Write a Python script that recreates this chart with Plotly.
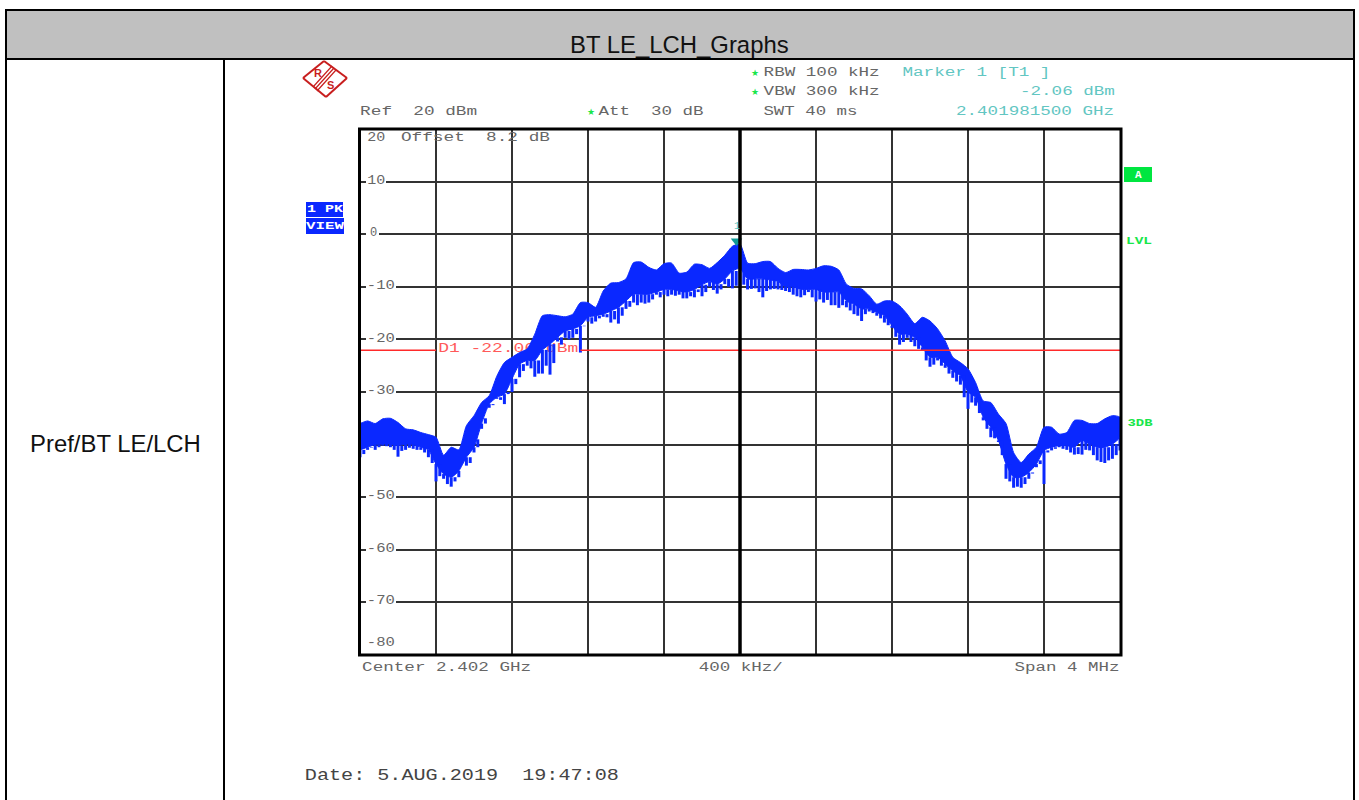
import json
import plotly.graph_objects as go

# ---------- data ----------
start_ghz = 2.400
step_ghz = 0.00004
upper_db = [-36, -35.5, -36, -35.1, -35, -35.8, -37, -37.2, -37.7, -38.1,
            -38.6, -42, -40.5, -41, -36.4, -34.5, -32, -30.7, -27, -24.4,
            -23.4, -22.5, -21.8, -19, -15.5, -15.3, -15.5, -15.7, -15.2, -13,
            -13, -13.9, -10.8, -9.3, -9.2, -8.5, -5.4, -5.3, -6.3, -6.8,
            -5.6, -5.5, -7.4, -7.2, -5.7, -5.8, -6.5, -5.4, -4, -2.3,
            -1.9, -5.5, -5.6, -5.2, -5.2, -6.5, -7.3, -6.7, -6.7, -6.8,
            -6.5, -6, -6.1, -6.8, -9.5, -10.3, -10.4, -11.7, -13.3, -12.7,
            -12.7, -13.6, -15.2, -17, -15.8, -16.5, -18, -20.3, -23.4, -24.4,
            -25.6, -28.2, -31.7, -32, -34.2, -36, -41.5, -43.4, -41.8, -40.5,
            -36.7, -36.7, -38, -37.7, -35.4, -35.4, -36, -36, -35.1, -34.5, -34.8]
lower_db = [-41, -40.5, -40, -39.9, -39.9, -40.2, -39.9, -40, -40.5, -41,
            -43.7, -45.6, -46.2, -45, -42.4, -40.5, -36, -32.3, -31, -30.4,
            -27.5, -24.7, -24, -24, -22, -20.9, -19.6, -18.4, -18, -17.4,
            -15.8, -15.5, -15.2, -14.6, -13.9, -12.7, -11.4, -11.4, -11.4, -11,
            -10.5, -10.5, -10.8, -11, -10.5, -9.6, -9, -9.5, -8.5, -7,
            -6.5, -8.5, -8.5, -8.5, -8.7, -9, -10, -10, -10.5, -10.5,
            -10.5, -11, -11, -11, -12.7, -13.3, -14.2, -14.2, -14.9, -15.5,
            -17.4, -19, -19, -19.6, -21.5, -23.4, -23.4, -24.7, -26, -26.9,
            -30, -31, -34.8, -36.7, -39.2, -43.7, -46.2, -46.2, -45.3, -43.7,
            -41.1, -40.5, -40.2, -40.2, -40.5, -39.2, -39.9, -40.5, -40.5, -39.9, -38.6]
spike_db = [-42.4, -41, -41, -40.2, -40.5, -42.3, -41, -40.8, -41, -42.4,
            -47, -46.5, -48, -46.2, -44, -41.5, -37, -33, -31.3, -32.3,
            -30, -27.2, -25, -27.1, -26.5, -26.7, -20.4, -19.7, -19.7, -22.5,
            -16.6, -16.6, -15.7, -16.8, -17, -14.2, -13, -13, -13, -11.5,
            -11.5, -11.5, -11.5, -12.2, -12, -11.8, -10, -11.3, -9.5, -10.3,
            -9.9, -10.5, -10.3, -12, -10.5, -10.5, -10.8, -11.5, -12, -11,
            -12.8, -13, -13.5, -14, -13.9, -15.2, -16.5, -14.7, -15.5, -16.8,
            -17.8, -21, -19.7, -21.3, -22.2, -25.2, -24, -25.4, -27.3, -28.6,
            -33.2, -32.6, -35.4, -38.6, -39.5, -46.5, -48.2, -48.2, -46.5, -44.3,
            -47.5, -41.1, -40.5, -41, -41.9, -41.9, -41.1, -43, -43.5, -42.7, -41.1]
mid_spike_db = [-41.8, -40.6, -40.5, -40.3, -41, -41.2, -40.6, -41, -41.5, -43.5,
                -46, -47.5, -47, -45, -43.5, -39, -35, -32.5, -31.5, -30,
                -28.5, -26, -25.5, -26.5, -25, -24.5, -21, -20, -19, -17.5,
                -17, -16, -15.8, -16.2, -15.5, -13.8, -13.5, -13.2, -12.4, -12,
                -11.8, -11.7, -12.2, -11.8, -11, -11, -10.6, -10.5, -10, -9.8,
                -9.6, -10.4, -11, -10.8, -10.4, -10.6, -11, -11.8, -11.6, -12,
                -12.4, -12.5, -13.5, -13.5, -14.5, -15.5, -15.2, -15, -16, -17.3,
                -19.5, -20.5, -20.5, -21.8, -24, -24.8, -25, -26.5, -28, -31,
                -32, -34, -37, -38.8, -42, -47, -48, -47.5, -45.5, -43,
                -41.5, -40.8, -40.8, -41.5, -41.8, -41, -42, -43.3, -43, -42]
display_line_db = -22.06
display_line_start_ghz = [2.400, 2.40116]
display_line_end_ghz = [2.4004, 2.404]
marker_ghz = 2.4019815
marker_db = -2.06
center_ghz = 2.402

assert len(upper_db) == len(lower_db) == len(spike_db) == 101 and len(mid_spike_db) == 100

freq = [start_ghz + i * step_ghz for i in range(len(upper_db))]

BLUE = "#0a28ff"
RED = "#ff2a2a"
GREEN = "#19e64b"
CYAN = "#62c6c2"
GRAY = "#666666"
W, H = 1359, 800


def px(x):
    return x / W


def py(y):
    return 1 - y / H


fig = go.Figure()

# D1 label sits under the trace
fig.add_trace(go.Scatter(x=[(display_line_end_ghz[0] + display_line_start_ghz[1]) / 2],
                         y=[display_line_db + 0.3], mode="text",
                         text=["D1 -22.06 dBm"], textposition="middle center",
                         textfont=dict(family="Liberation Mono", size=12, color="#ff5a5a"),
                         hoverinfo="skip"))
# Trace body
fig.add_trace(go.Scatter(x=freq + freq[::-1], y=upper_db + lower_db[::-1], mode="lines",
                         fill="toself", fillcolor=BLUE,
                         line=dict(color=BLUE, width=1, shape="spline", smoothing=0.6),
                         hoverinfo="skip"))
# Downward spikes
sx, sy = [], []
for f, u, s in zip(freq, lower_db, spike_db):
    sx += [f, f, None]
    sy += [u, s, None]
for i, s in enumerate(mid_spike_db):
    f = freq[i] + step_ghz / 2
    sx += [f, f, None]
    sy += [lower_db[i], s, None]
fig.add_trace(go.Scatter(x=sx, y=sy, mode="lines", line=dict(color=BLUE, width=3),
                         hoverinfo="skip"))
# Display line D1
for a, b in zip(display_line_start_ghz, display_line_end_ghz):
    fig.add_trace(go.Scatter(x=[a, b], y=[display_line_db, display_line_db], mode="lines",
                             line=dict(color=RED, width=1.5), hoverinfo="skip"))
# Marker
fig.add_trace(go.Scatter(x=[marker_ghz], y=[marker_db], mode="markers",
                         marker=dict(symbol="triangle-up", angle=180, size=10, color="#109a98", standoff=4),
                         hoverinfo="skip"))

shapes = []


def rect(x0, y0, x1, y1, fill, layer="below"):
    shapes.append(dict(type="rect", xref="paper", yref="paper", x0=px(x0), x1=px(x1),
                       y0=py(y0), y1=py(y1), fillcolor=fill, line=dict(width=0), layer=layer))


def seg(x0, y0, x1, y1, color="black", width=2, layer="above"):
    shapes.append(dict(type="line", xref="paper", yref="paper", x0=px(x0), x1=px(x1),
                       y0=py(y0), y1=py(y1), line=dict(color=color, width=width), layer=layer))


# Table
rect(6, 10, 1354, 59, "#c0c0c0")
seg(5, 10, 1355, 10)
seg(5, 59, 1355, 59)
seg(6, 10, 6, 800)
seg(1354, 10, 1354, 800)
seg(224, 59, 224, 800)

# Side tags
rect(306, 202, 343, 217, "#0a28ff")
rect(306, 218, 344, 234, "#0a28ff")
rect(1124, 167, 1152, 182, "#00e640")

# Grid gaps behind scale labels
for y, x1 in [(181, 386), (233.5, 379), (286, 396), (338.5, 396), (391, 396),
              (496, 396), (548.5, 396), (601, 396)]:
    rect(366, y - 3, x1, y + 3, "white", layer="above")

# Centre line
shapes.append(dict(type="line", xref="x", yref="paper", x0=center_ghz, x1=center_ghz,
                   y0=py(655), y1=py(129), line=dict(color="black", width=3.5), layer="above"))

# Plot frame
shapes.append(dict(type="rect", xref="paper", yref="paper", x0=px(359.5), x1=px(1121),
                   y0=py(655), y1=py(129), line=dict(color="black", width=3), layer="above"))

# Logo
LOGO = "#c81e1e"
for a, b in [((303, 78), (324, 61)), ((324, 61), (347, 78)), ((347, 78), (326, 97)), ((326, 97), (303, 78))]:
    seg(a[0], a[1], b[0], b[1], LOGO, 2)
for d in (-2, 0, 2):
    seg(334 + d, 68 + d, 315 + d, 89 + d, LOGO, 1.2)

# Text: (text, left, right, y, colour, size, font, bold)
MONO = "Liberation Mono"
SANS = "Liberation Sans"
texts = [
    ("BT LE_LCH_Graphs", 570, 789, 44, "#111111", 23.9, SANS, False),
    ("Pref/BT LE/LCH", 30, 201, 443, "#111111", 23.9, SANS, False),
    ("Ref  20 dBm", 360, 477, 111, GRAY, 12, MONO, False),
    ("Att  30 dB", 598, 703, 111, GRAY, 12, MONO, False),
    ("RBW 100 kHz", 763, 879, 72, GRAY, 12, MONO, False),
    ("VBW 300 kHz", 763, 879, 91, GRAY, 12, MONO, False),
    ("SWT 40 ms", 763, 857, 111, GRAY, 12, MONO, False),
    ("Marker 1 [T1 ]", 902, 1050, 72, CYAN, 12, MONO, False),
    ("-2.06 dBm", 1020, 1115, 91, CYAN, 12, MONO, False),
    ("2.401981500 GHz", 956, 1114, 111, CYAN, 12, MONO, False),
    ("★", 587, 595, 111, GREEN, 9, "DejaVu Sans", False),
    ("★", 751, 759, 72, GREEN, 9, "DejaVu Sans", False),
    ("★", 751, 759, 91, GREEN, 9, "DejaVu Sans", False),
    ("1", 733, 740, 226, CYAN, 10, MONO, False),
    ("20", 367, 385, 137, GRAY, 12, MONO, False),
    ("Offset  8.2 dB", 401, 550, 137, GRAY, 12, MONO, False),
    ("10", 367, 385, 180, GRAY, 12, MONO, False),
    ("0", 368, 378, 232, GRAY, 12, MONO, False),
    ("-10", 367, 395, 285, GRAY, 12, MONO, False),
    ("-20", 367, 395, 338, GRAY, 12, MONO, False),
    ("-30", 367, 395, 390, GRAY, 12, MONO, False),
    ("-50", 367, 395, 495, GRAY, 12, MONO, False),
    ("-60", 367, 395, 548, GRAY, 12, MONO, False),
    ("-70", 367, 395, 600, GRAY, 12, MONO, False),
    ("-80", 367, 395, 642, GRAY, 12, MONO, False),
    ("Center 2.402 GHz", 362, 531, 667, GRAY, 12, MONO, False),
    ("400 kHz/", 699, 783, 667, GRAY, 12, MONO, False),
    ("Span 4 MHz", 1014, 1119, 667, GRAY, 12, MONO, False),
    ("Date: 5.AUG.2019  19:47:08", 305, 619, 775, "#444444", 16, MONO, False),
    ("1 PK", 307, 343, 209, "white", 10, MONO, True),
    ("VIEW", 306, 344, 226, "white", 10, MONO, True),
    ("A", 1134, 1143, 174, "white", 11, MONO, True),
    ("LVL", 1126, 1152, 241, GREEN, 10, MONO, True),
    ("3DB", 1127, 1152, 423, GREEN, 10, MONO, True),
    ("R", 313, 323, 72, LOGO, 11, SANS, True),
    ("S", 325, 335, 84, LOGO, 11, SANS, True),
]
annotations = [dict(xref="paper", yref="paper", x=px((l + r) / 2), y=py(y + 0.8), xanchor="center",
                    yanchor="middle", showarrow=False, text=f"<b>{t}</b>" if b else t,
                    font=dict(family=fam, size=s, color=c))
               for t, l, r, y, c, s, fam, b in texts]
widths = [r - l for _, l, r, _, _, _, _, _ in texts]

fig.update_layout(
    width=W, height=H, margin=dict(l=0, r=0, t=0, b=0), paper_bgcolor="white",
    plot_bgcolor="white", showlegend=False, shapes=shapes, annotations=annotations,
    xaxis=dict(domain=[px(360), px(1120)], range=[2.400, 2.404], dtick=0.0004, tick0=2.400,
               showticklabels=False, ticks="", showgrid=True, gridcolor="#333333", gridwidth=2,
               zeroline=False, showline=False),
    yaxis=dict(domain=[py(655), py(129)], range=[-80, 20], dtick=10, tick0=0,
               showticklabels=False, ticks="", showgrid=True, gridcolor="#333333", gridwidth=2,
               zeroline=False, showline=False),
)

post = """
document.documentElement.style.overflow='hidden';
document.body.style.margin='0';
var w=%s;
function fit(el,t){var n=el.textContent.length;if(n<2)return;
 el.setAttribute('textLength',t);el.setAttribute('lengthAdjust','spacingAndGlyphs');}
document.querySelectorAll('g.annotation').forEach(function(g){
 var i=+g.getAttribute('data-index');var el=g.querySelector('text');if(el&&i>1&&i<w.length-2)fit(el,w[i]);});
document.querySelectorAll('g.textpoint text').forEach(function(el){fit(el,140);});
""" % json.dumps(widths)

fig.write_html("out.html", config=dict(displayModeBar=False, responsive=False), post_script=post)
